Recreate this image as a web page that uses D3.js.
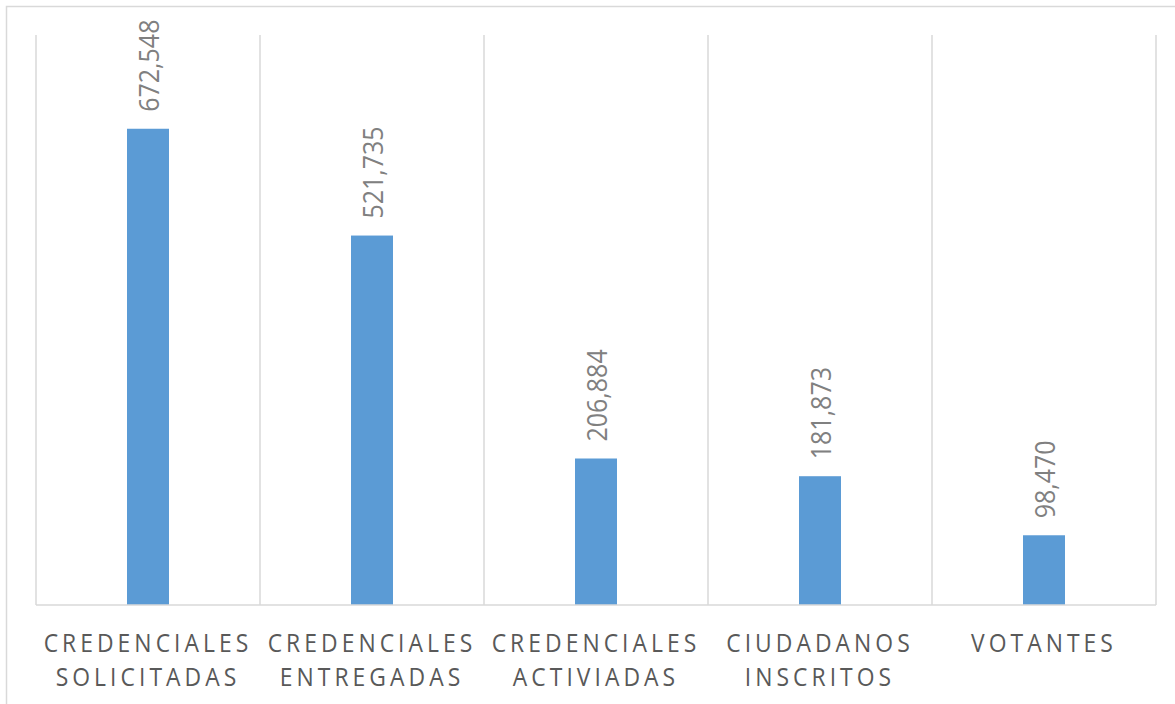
<!DOCTYPE html>
<html>
<head>
<meta charset="utf-8">
<script src="https://cdn.jsdelivr.net/npm/d3@7"></script>
<style>
  html, body { margin: 0; padding: 0; background: #fff; }
  svg { display: block; }
</style>
</head>
<body>
<svg id="chart" width="1175" height="704"></svg>
<script>
const categories = [
  ["CREDENCIALES", "SOLICITADAS"],
  ["CREDENCIALES", "ENTREGADAS"],
  ["CREDENCIALES", "ACTIVIADAS"],
  ["CIUDADANOS", "INSCRITOS"],
  ["VOTANTES"]
];
const values = [672548, 521735, 206884, 181873, 98470];
const yMax = 800000;

const svg = d3.select("#chart");
const W = 1175, H = 704;
const plot = { left: 36, right: 1156, top: 35, bottom: 605 };

// outer chart border
svg.append("rect")
  .attr("x", 6.5).attr("y", 6.5)
  .attr("width", W + 10).attr("height", H + 10)
  .attr("fill", "#fff").attr("stroke", "#d9d9d9").attr("stroke-width", 1.5);

const keys = categories.map((c, i) => i);
const x = d3.scaleBand().domain(keys).range([plot.left, plot.right])
  .paddingInner(0.8125).paddingOuter(0.40625);
const xCat = d3.scaleBand().domain(keys).range([plot.left, plot.right]);
const y = d3.scaleLinear().domain([0, yMax]).range([plot.bottom, plot.top + 3.5]);

// vertical gridlines at category boundaries
const bounds = keys.map(k => xCat(k)).concat([plot.right]);
svg.append("g").selectAll("line").data(bounds).join("line")
  .attr("x1", d => d).attr("x2", d => d)
  .attr("y1", plot.top).attr("y2", plot.bottom)
  .attr("stroke", "#d9d9d9").attr("stroke-width", 1.5);

// bars
svg.append("g").selectAll("rect").data(values).join("rect")
  .attr("x", (d, i) => x(i))
  .attr("y", d => y(d))
  .attr("width", x.bandwidth())
  .attr("height", d => y(0) - y(d))
  .attr("fill", "#5b9bd5");

// baseline
svg.append("line")
  .attr("x1", plot.left).attr("x2", plot.right)
  .attr("y1", plot.bottom).attr("y2", plot.bottom)
  .attr("stroke", "#d9d9d9").attr("stroke-width", 1.5);

// value labels (rotated)
const fmt = d3.format(",");
svg.append("g").selectAll("text").data(values).join("text")
  .attr("transform", (d, i) => `translate(${x(i) + x.bandwidth() / 2 + 1},${y(d) - 17}) rotate(-90) scale(1,1.08)`)
  .attr("text-anchor", "start")
  .attr("dominant-baseline", "central")
  .attr("font-family", "'Open Sans', sans-serif")
  .attr("font-size", 25)
  .attr("fill", "#808080")
  .text(d => fmt(d));

// category labels (slightly condensed)
const sx = 0.88;
const lab = svg.append("g").attr("transform", `scale(${sx},1)`)
  .selectAll("text").data(categories).join("text")
  .attr("text-anchor", "middle")
  .attr("font-family", "'Open Sans', sans-serif")
  .attr("font-size", 26)
  .attr("letter-spacing", "4.6px")
  .attr("fill", "#595959");
lab.selectAll("tspan").data((d, i) => d.map((t, j) => ({ t, j, i }))).join("tspan")
  .attr("x", d => (xCat(d.i) + xCat.bandwidth() / 2) / sx)
  .attr("y", d => 652 + d.j * 34)
  .text(d => d.t);
</script>
</body>
</html>
